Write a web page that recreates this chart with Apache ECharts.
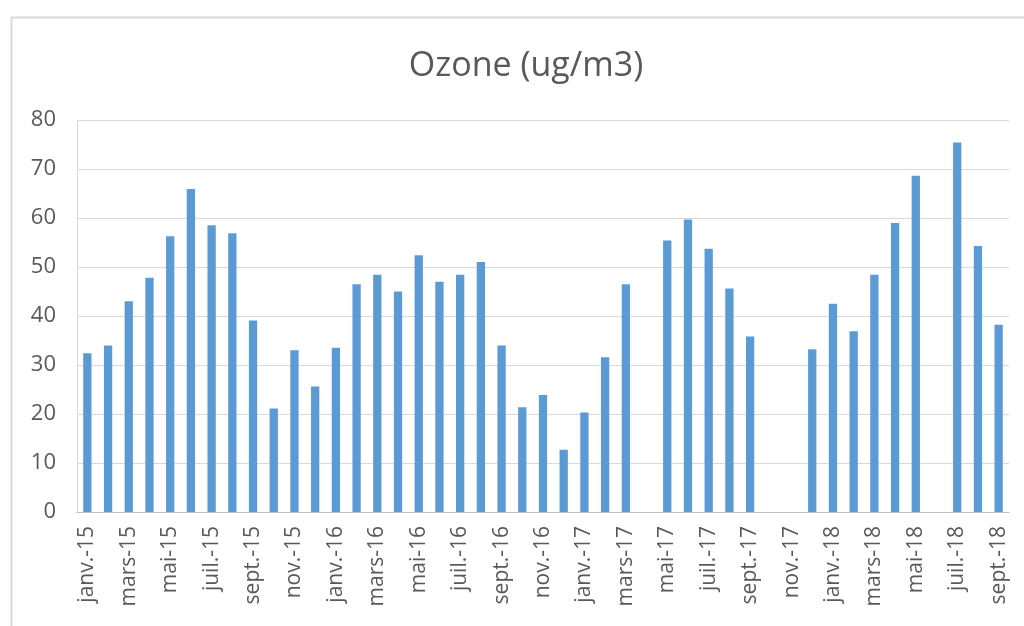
<!DOCTYPE html>
<html>
<head>
<meta charset="utf-8">
<script src="https://cdn.jsdelivr.net/npm/echarts@6/dist/echarts.min.js"></script>
<style>
html,body{margin:0;padding:0;background:#fff;}
#c{width:1024px;height:626px;}
</style>
</head>
<body>
<div id="c"></div>
<script>
const months = ['janv.','févr.','mars','avr.','mai','juin','juil.','août','sept.','oct.','nov.','déc.'];
const years = ['15','16','17','18'];
const categories = [];
for (const y of years) for (const m of months) categories.push(m + '-' + y);
categories.length = 45; // janv.-15 .. sept.-18

const ozone = [
  32.4, 34.0, 43.0, 47.8, 56.3, 65.9, 58.5, 56.9, 39.1, 21.1, 33.0, 25.6,
  33.5, 46.5, 48.4, 45.0, 52.4, 47.0, 48.4, 51.0, 34.0, 21.4, 23.9, 12.7,
  20.3, 31.6, 46.5, null, 55.4, 59.7, 53.7, 45.6, 35.8, null, null, 33.2,
  42.5, 36.9, 48.4, 59.0, 68.6, null, 75.4, 54.3, 38.2
];

const yTicks = { min: 0, max: 80, interval: 10 };
const titleText = 'Ozone (ug/m3)';

const chart = echarts.init(document.getElementById('c'));
chart.setOption({
  animation: false,
  backgroundColor: '#fff',
  graphic: [{
    type: 'rect', left: 9, top: 15,
    shape: { width: 1100, height: 700 },
    style: { fill: 'none', stroke: '#d9d9d9', lineWidth: 2 },
    silent: true
  }],
  title: {
    text: titleText, left: 521, textAlign: 'center', top: 44,
    textStyle: { fontFamily: 'Open Sans', fontSize: 34, fontWeight: 'normal', color: '#595959' }
  },
  grid: { left: 77, right: 15, top: 120, bottom: 114, containLabel: false },
  xAxis: {
    type: 'category', data: categories,
    axisLine: { lineStyle: { color: '#bfbfbf', width: 1 } },
    axisTick: { show: false },
    axisLabel: {
      interval: 1, rotate: 90, margin: 14,
      fontFamily: 'Open Sans', fontSize: 21, color: '#595959'
    }
  },
  yAxis: {
    type: 'value', min: yTicks.min, max: yTicks.max, interval: yTicks.interval,
    axisLine: { show: true, lineStyle: { color: '#d9d9d9' } },
    axisTick: { show: false },
    splitLine: { lineStyle: { color: '#d9d9d9', width: 1 } },
    axisLabel: { margin: 21, fontFamily: 'Open Sans', fontSize: 22, color: '#595959' }
  },
  series: [{
    type: 'bar', data: ozone, barWidth: '40%',
    itemStyle: { color: '#5b9bd5' }
  }]
});
</script>
</body>
</html>
